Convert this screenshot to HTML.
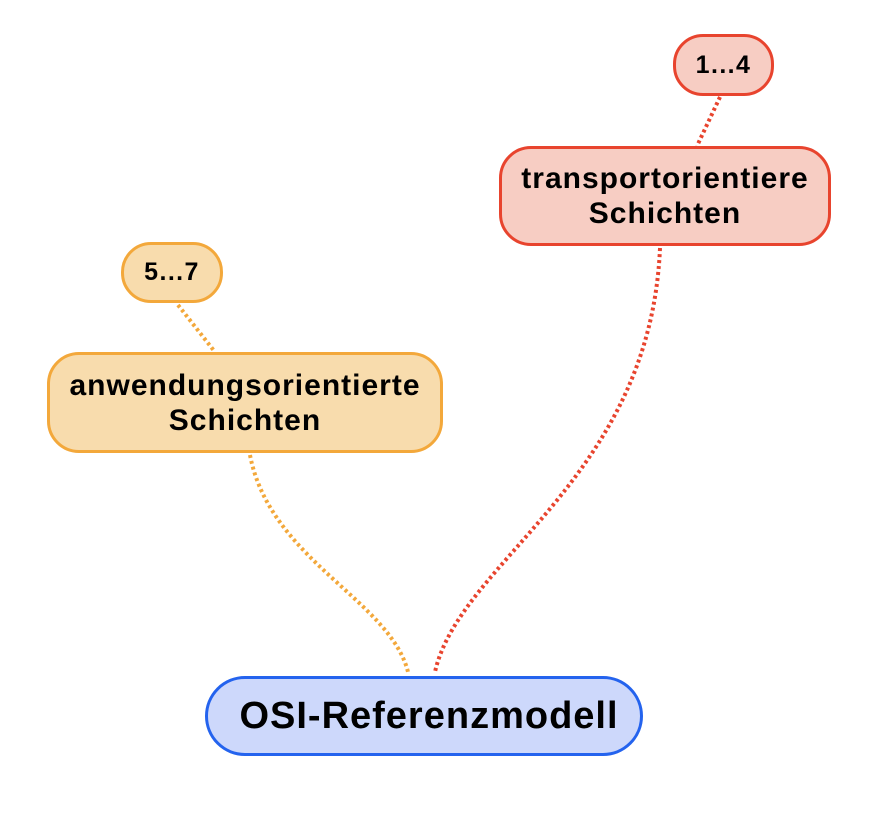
<!DOCTYPE html>
<html><head><style>
body{margin:0;width:880px;height:814px;background:#fff;position:relative;font-family:"Liberation Sans",Arial,sans-serif;overflow:hidden}
.n{position:absolute;box-sizing:border-box;display:flex;align-items:center;justify-content:center;text-align:center;font-weight:bold;color:#000;border-width:3px;border-style:solid;white-space:nowrap}
.o{background:#f8dcad;border-color:#f3a83b}
.r{background:#f7cdc3;border-color:#e8442e}
</style></head><body>
<svg width="880" height="814" style="position:absolute;left:0;top:0">
<g fill="none" stroke-width="4" stroke-dasharray="3 3">
<path d="M250 455 C270 560,390 600,408 672" stroke="#f3a83b"/>
<path d="M178 305 L215 352" stroke="#f3a83b"/>
<path d="M660 248 C650 480,460 560,435 672" stroke="#e8442e"/>
<path d="M720 97 L697 146" stroke="#e8442e"/>
</g></svg>
<div class="n" style="left:205px;top:676px;width:438px;height:80px;border-radius:40px;background:#cdd8fb;border-color:#2463ee;font-size:38px;letter-spacing:1px;padding-left:10px">OSI-Referenzmodell</div>
<div class="n o" style="left:47px;top:352px;width:396px;height:101px;border-radius:32px;font-size:30px;line-height:35px;letter-spacing:1px">anwendungsorientierte<br>Schichten</div>
<div class="n o" style="left:121px;top:242px;width:102px;height:61px;border-radius:30px;font-size:25px;letter-spacing:1.4px">5...7</div>
<div class="n r" style="left:499px;top:146px;width:332px;height:100px;border-radius:32px;font-size:30px;line-height:35px;letter-spacing:1px">transportorientiere<br>Schichten</div>
<div class="n r" style="left:673px;top:34px;width:101px;height:62px;border-radius:30px;font-size:25px;letter-spacing:1.4px">1...4</div>
</body></html>
